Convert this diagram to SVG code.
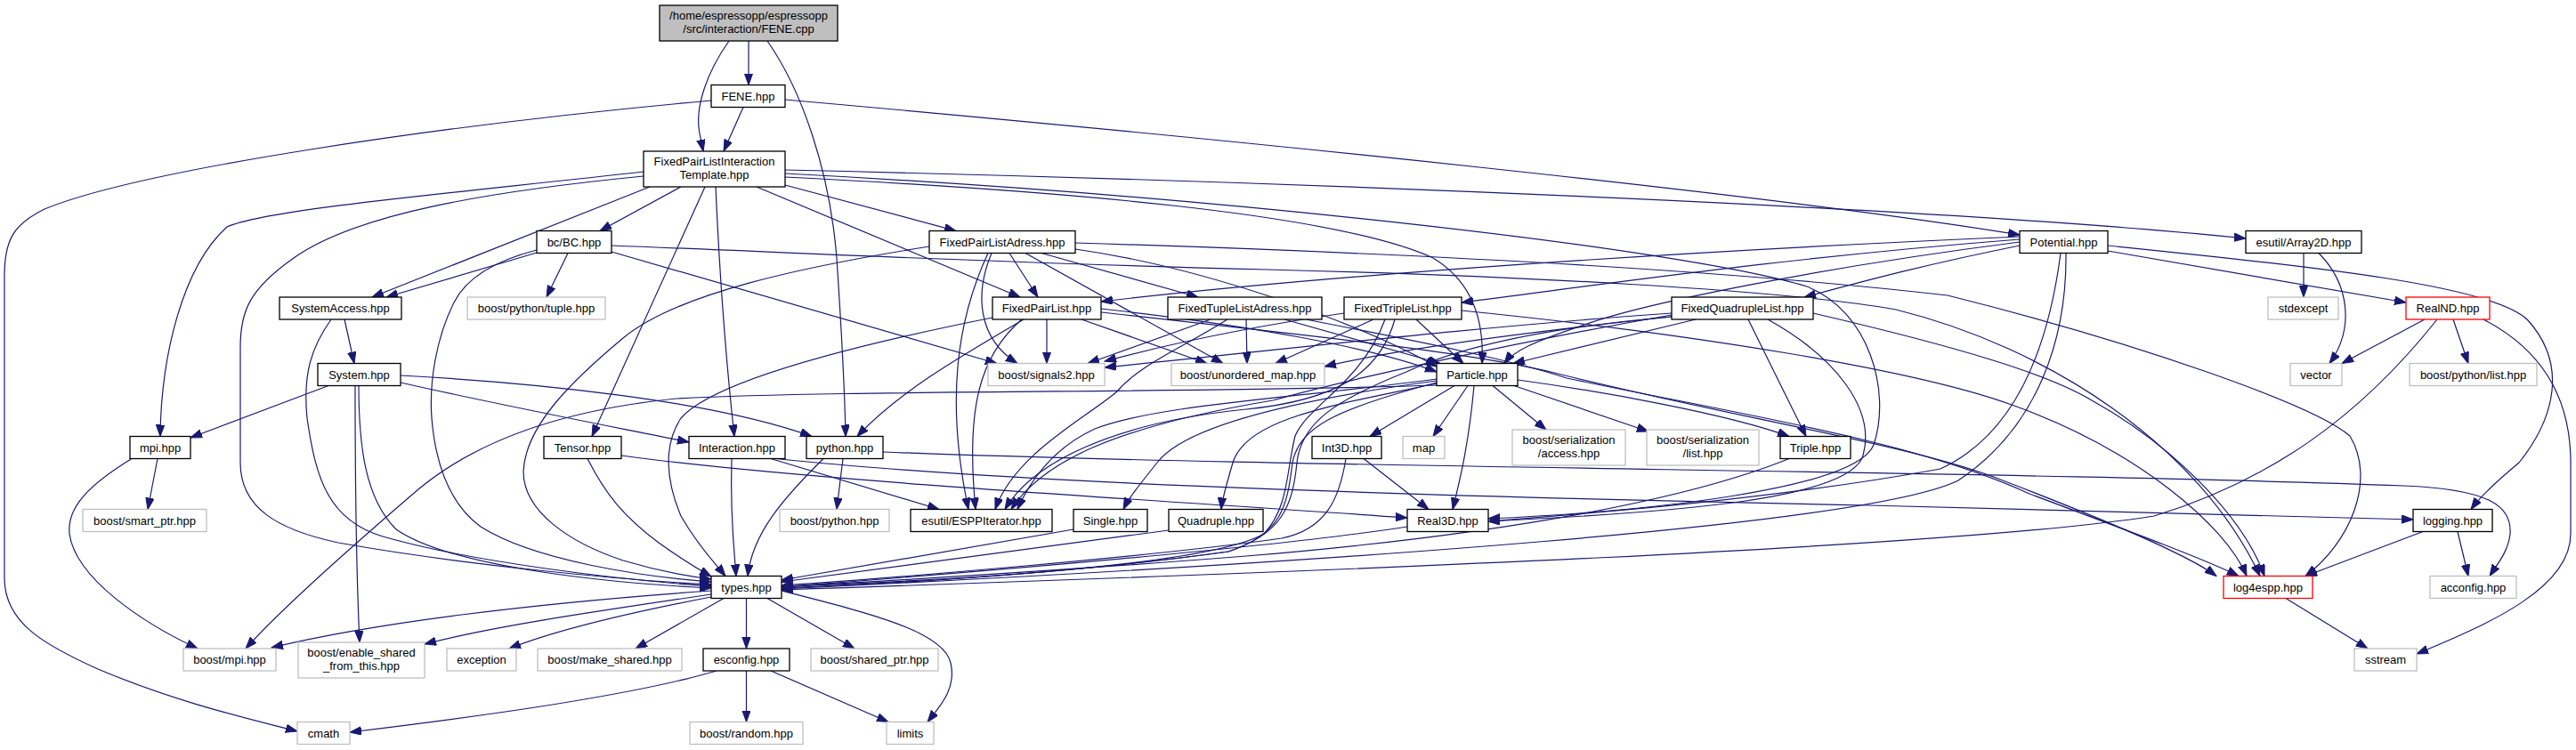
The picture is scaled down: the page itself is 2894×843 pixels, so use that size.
<svg xmlns="http://www.w3.org/2000/svg" width="2894" height="843" viewBox="0 0 2894 843">
<style>
.e{fill:none;stroke:#191970;stroke-width:1.2;marker-end:url(#arr)}
.n rect{fill:#fff;stroke:#000;stroke-width:1.3}
.g rect{fill:#fff;stroke:#bfbfbf;stroke-width:1.3}
.r rect{fill:#fff;stroke:#ff0000;stroke-width:1.3}
.root rect{fill:#bfbfbf;stroke:#000;stroke-width:1.3}
text{font-family:"Liberation Sans",Arial,Helvetica,sans-serif;font-size:13px;text-anchor:middle;fill:#000}
</style>
<defs>
<marker id="arr" markerWidth="14" markerHeight="10" refX="13" refY="4.7" orient="auto" markerUnits="userSpaceOnUse">
<path d="M0,0 L13,4.7 L0,9.4 z" fill="#191970" stroke="#191970" stroke-width="1"/>
</marker>
</defs>
<rect width="2894" height="843" fill="#fff"/>
<g id="edges">
<path class="e" d="M841,46 L841,95.5"/>
<path class="e" d="M819,46 C795,80 780,120 786,150 C788,160 789,165 790,170"/>
<path class="e" d="M862,46 C900,100 932,190 940,290 C946,380 949,440 950,490.5"/>
<path class="e" d="M835,120.5 L813,170"/>
<path class="e" d="M882,112 C1400,158 2000,220 2269,264"/>
<path class="e" d="M799,113 C500,140 160,190 50,235 C15,252 5,270 5,310 L5,650 C5,700 50,725 110,752 C200,790 280,808 334,822"/>
<path class="e" d="M765,210 L674,259.5"/>
<path class="e" d="M730,210 L418,334"/>
<path class="e" d="M723,193 C500,218 300,235 255,255 C205,300 181,400 180,490.5"/>
<path class="e" d="M723,198 C550,215 400,240 330,290 C280,325 270,350 270,390 L270,520 C270,570 310,595 380,610 C520,635 700,652 799,657"/>
<path class="e" d="M792,210 L665,490.5"/>
<path class="e" d="M804,210 C808,300 815,400 825,490.5"/>
<path class="e" d="M882,208 L1074,259.5"/>
<path class="e" d="M850,210 L1146,334"/>
<path class="e" d="M882,199 C1200,215 1500,240 1610,290 C1660,320 1667,370 1665,408.5"/>
<path class="e" d="M882,195 C1400,222 1900,282 2030,322 C2100,350 2125,440 2105,500 C2085,550 1850,575 1672,583"/>
<path class="e" d="M882,191 C1500,205 2200,235 2523,268"/>
<path class="e" d="M603,284 L434,334"/>
<path class="e" d="M638,284.5 L614,334"/>
<path class="e" d="M603,281 C560,292 525,310 510,340 C490,380 482,430 485,470 C490,530 510,570 540,592 C600,630 720,648 799,654"/>
<path class="e" d="M687,283 L1120,408.5"/>
<path class="e" d="M687,276 C900,284 1100,295 1424,303 C1700,310 2000,325 2130,348 C2300,390 2470,500 2539,647.5"/>
<path class="e" d="M387,359 L398,408.5"/>
<path class="e" d="M372,359 C350,390 340,420 345,470 C355,540 370,585 430,603 C530,632 700,652 799,659"/>
<path class="e" d="M369,433.5 L214,492"/>
<path class="e" d="M403,433.5 C403,500 410,560 445,595 C510,640 700,656 799,661"/>
<path class="e" d="M399,433.5 C399,600 402,680 404,722"/>
<path class="e" d="M450,422 C600,430 800,450 912,490.5"/>
<path class="e" d="M450,430 C560,455 680,478 774,497"/>
<path class="e" d="M177,515.5 L166,572.5"/>
<path class="e" d="M148,515.5 C100,545 75,570 78,600 C85,650 160,700 222,729"/>
<path class="e" d="M660,515.5 C680,555 700,580 740,610 C765,628 785,640 799,648"/>
<path class="e" d="M698,512 C900,540 1300,562 1581,582"/>
<path class="e" d="M822,515.5 C820,580 825,620 827,647.5"/>
<path class="e" d="M866,515.5 L1055,572.5"/>
<path class="e" d="M872,515.5 C1100,540 1500,556 2100,568 C2400,575 2600,580 2711,584"/>
<path class="e" d="M947,515.5 L940,572.5"/>
<path class="e" d="M925,515.5 C880,560 845,600 840,647.5"/>
<path class="e" d="M992,508 C1400,525 2300,530 2700,546 C2800,550 2822,570 2820,600 C2818,620 2805,635 2797,647.5"/>
<path class="e" d="M1134,284.5 L1166,334"/>
<path class="e" d="M1170,284.5 L1346,334"/>
<path class="e" d="M1114,284.5 C1095,330 1098,380 1143,408.5"/>
<path class="e" d="M1152,284.5 L1374,408.5"/>
<path class="e" d="M1110,284.5 C1075,360 1062,450 1088,572.5"/>
<path class="e" d="M1044,277 C900,300 760,330 700,380 C640,430 590,480 588,530 C588,575 640,610 700,630 C740,642 775,648 799,651"/>
<path class="e" d="M1208,280 C1350,300 1520,360 1614,412"/>
<path class="e" d="M1208,273 C1600,285 1950,305 2188,332 C2400,385 2600,455 2640,490 C2670,540 2640,610 2590,647.5"/>
<path class="e" d="M1176,359 L1176,408.5"/>
<path class="e" d="M1215,359 L1356,408.5"/>
<path class="e" d="M1150,359 C1080,400 1010,440 963,490.5"/>
<path class="e" d="M1115,357 C950,390 800,430 765,470 C745,500 748,540 765,580 C785,615 805,635 815,647.5"/>
<path class="e" d="M1148,359 C1100,400 1085,460 1096,572.5"/>
<path class="e" d="M1237,347 C1400,365 1540,390 1614,418"/>
<path class="e" d="M1237,351 C1450,375 1650,395 1750,420 C1950,470 2150,500 2250,540 C2380,590 2460,625 2490,647.5"/>
<path class="e" d="M1360,359 L1222,408.5"/>
<path class="e" d="M1400,359 L1401,408.5"/>
<path class="e" d="M1379,359 C1330,390 1280,410 1255,440 C1220,470 1140,510 1118,572.5"/>
<path class="e" d="M1443,359 L1618,408.5"/>
<path class="e" d="M1467,359 C1600,385 1700,405 1760,425 C1950,465 2150,495 2280,555 C2400,600 2480,630 2515,647.5"/>
<path class="e" d="M1510,352 C1420,365 1320,385 1241,406"/>
<path class="e" d="M1543,359 L1433,408.5"/>
<path class="e" d="M1591,359 L1644,408.5"/>
<path class="e" d="M1567,359 C1550,420 1500,450 1400,460 C1250,475 1160,520 1129,572.5"/>
<path class="e" d="M1556,359 C1530,430 1470,455 1455,490 C1445,530 1448,570 1420,600 C1350,640 1000,655 878,659"/>
<path class="e" d="M1642,349 C1900,375 2150,415 2260,455 C2400,505 2500,590 2524,647.5"/>
<path class="e" d="M1878,352 C1650,368 1450,392 1241,413"/>
<path class="e" d="M1878,356 C1700,375 1560,395 1488,412"/>
<path class="e" d="M1905,359 L1700,408.5"/>
<path class="e" d="M1964,359 L2029,490.5"/>
<path class="e" d="M1986,359 C2060,400 2110,460 2092,515 C2070,560 1900,575 1672,586"/>
<path class="e" d="M1878,354 C1700,385 1500,430 1430,450 C1250,480 1170,520 1136,572.5"/>
<path class="e" d="M1878,356 C1740,368 1640,390 1580,418 C1500,450 1462,475 1457,520 C1452,570 1440,600 1380,620 C1200,645 1000,656 878,661"/>
<path class="e" d="M2037,352 C2200,390 2300,420 2350,450 C2440,500 2520,580 2544,647.5"/>
<path class="e" d="M2269,276 C2150,300 2080,320 2027,334"/>
<path class="e" d="M2269,269 C2000,290 1800,320 1642,340"/>
<path class="e" d="M2269,266 C1900,282 1500,308 1237,339"/>
<path class="e" d="M2269,272 C2050,300 1850,340 1780,365 C1720,385 1700,395 1690,408.5"/>
<path class="e" d="M2368,282 L2703,340"/>
<path class="e" d="M2368,276 C2600,300 2800,320 2840,360 C2885,410 2870,470 2830,520 C2800,545 2785,560 2776,572.5"/>
<path class="e" d="M2315,284.5 C2300,400 2260,490 2180,527 C2000,560 1800,576 1672,586"/>
<path class="e" d="M2321,284.5 C2322,380 2290,480 2200,540 C2100,590 1500,632 878,662"/>
<path class="e" d="M2588,284.5 L2588,334"/>
<path class="e" d="M2605,284.5 C2640,320 2645,370 2617,408.5"/>
<path class="e" d="M2724,359 L2631,408.5"/>
<path class="e" d="M2756,359 L2773,408.5"/>
<path class="e" d="M2738,359 C2650,470 2550,540 2420,580 C2200,615 1500,642 878,663"/>
<path class="e" d="M2790,359 C2850,390 2888,440 2888,520 L2888,600 C2888,660 2800,700 2715,735"/>
<path class="e" d="M2722,597.5 L2590,647.5"/>
<path class="e" d="M2761,597.5 L2773,647.5"/>
<path class="e" d="M2568,672.5 L2660,729"/>
<path class="e" d="M1634,433.5 L1539,490.5"/>
<path class="e" d="M1649,433.5 L1610,490.5"/>
<path class="e" d="M1677,433.5 L1737,483"/>
<path class="e" d="M1701,433.5 L1852,485"/>
<path class="e" d="M1705,427 C1800,440 1940,465 2010,490.5"/>
<path class="e" d="M1656,433.5 C1650,500 1640,540 1632,572.5"/>
<path class="e" d="M1614,430 C1500,460 1460,480 1452,520 C1446,570 1440,600 1380,620 C1200,645 1000,656 878,661"/>
<path class="e" d="M1614,426 C1450,448 1300,455 1230,482 C1180,505 1155,545 1143,572.5"/>
<path class="e" d="M1614,428 C1450,450 1330,480 1300,520 C1280,545 1268,560 1262,572.5"/>
<path class="e" d="M1614,431 C1500,455 1400,470 1385,520 C1378,545 1373,560 1372,572.5"/>
<path class="e" d="M1614,433 C1350,442 950,438 760,448 C620,462 530,500 470,550 C400,610 320,680 276,729"/>
<path class="e" d="M1532,515.5 L1605,572.5"/>
<path class="e" d="M1512,515.5 C1505,560 1490,595 1440,605 C1300,625 1000,650 878,658"/>
<path class="e" d="M2010,515.5 C1900,560 1700,600 1400,625 C1150,645 950,655 878,660"/>
<path class="e" d="M1581,592 C1400,620 1000,650 878,660"/>
<path class="e" d="M1206,595 L878,652"/>
<path class="e" d="M1313,596 L878,654"/>
<path class="e" d="M799,664 C600,678 420,700 305,728"/>
<path class="e" d="M799,668 C650,690 550,705 477,724"/>
<path class="e" d="M799,671 C700,690 620,710 572,729"/>
<path class="e" d="M813,672.5 L714,729"/>
<path class="e" d="M838.5,672.5 L838.5,729"/>
<path class="e" d="M862,672.5 L960,729"/>
<path class="e" d="M878,664 C980,690 1060,710 1068,745 C1075,775 1055,795 1042,811.5"/>
<path class="e" d="M805,754 C700,785 500,810 393,823"/>
<path class="e" d="M838.5,754 L838.5,811.5"/>
<path class="e" d="M866,754 L998,811.5"/>
</g>
<g id="n_fene_cpp" class="root"><rect x="741" y="6" width="200" height="40"/><text x="841" y="22">/home/espressopp/espressopp</text><text x="841" y="37">/src/interaction/FENE.cpp</text></g>
<g id="n_fene_hpp" class="n"><rect x="799" y="95.5" width="83" height="25"/><text x="840.5" y="112.5">FENE.hpp</text></g>
<g id="n_fplit" class="n"><rect x="723" y="170" width="159" height="40"/><text x="802.5" y="186">FixedPairListInteraction</text><text x="802.5" y="201">Template.hpp</text></g>
<g id="n_bc" class="n"><rect x="603" y="259.5" width="84" height="25"/><text x="645" y="276.5">bc/BC.hpp</text></g>
<g id="n_fpla" class="n"><rect x="1044" y="259.5" width="164" height="25"/><text x="1126" y="276.5">FixedPairListAdress.hpp</text></g>
<g id="n_potential" class="n"><rect x="2269" y="259.5" width="99" height="25"/><text x="2318.5" y="276.5">Potential.hpp</text></g>
<g id="n_array2d" class="n"><rect x="2523" y="259.5" width="130" height="25"/><text x="2588" y="276.5">esutil/Array2D.hpp</text></g>
<g id="n_systemaccess" class="n"><rect x="314" y="334" width="137" height="25"/><text x="382.5" y="351">SystemAccess.hpp</text></g>
<g id="n_tuple" class="g"><rect x="525" y="334" width="155" height="25"/><text x="602.5" y="351">boost/python/tuple.hpp</text></g>
<g id="n_fpl" class="n"><rect x="1115" y="334" width="122" height="25"/><text x="1176" y="351">FixedPairList.hpp</text></g>
<g id="n_ftla" class="n"><rect x="1312" y="334" width="173" height="25"/><text x="1398.5" y="351">FixedTupleListAdress.hpp</text></g>
<g id="n_ftl" class="n"><rect x="1510" y="334" width="132" height="25"/><text x="1576" y="351">FixedTripleList.hpp</text></g>
<g id="n_fql" class="n"><rect x="1878" y="334" width="159" height="25"/><text x="1957.5" y="351">FixedQuadrupleList.hpp</text></g>
<g id="n_stdexcept" class="g"><rect x="2548" y="334" width="79" height="25"/><text x="2587.5" y="351">stdexcept</text></g>
<g id="n_realnd" class="r"><rect x="2703" y="334" width="94" height="25"/><text x="2750" y="351">RealND.hpp</text></g>
<g id="n_system" class="n"><rect x="357" y="408.5" width="93" height="25"/><text x="403.5" y="425.5">System.hpp</text></g>
<g id="n_signals2" class="g"><rect x="1110" y="408.5" width="131" height="25"/><text x="1175.5" y="425.5">boost/signals2.hpp</text></g>
<g id="n_umap" class="g"><rect x="1316" y="408.5" width="172" height="25"/><text x="1402" y="425.5">boost/unordered_map.hpp</text></g>
<g id="n_particle" class="n"><rect x="1614" y="408.5" width="91" height="25"/><text x="1659.5" y="425.5">Particle.hpp</text></g>
<g id="n_vector" class="g"><rect x="2573" y="408.5" width="58" height="25"/><text x="2602" y="425.5">vector</text></g>
<g id="n_pylist" class="g"><rect x="2707" y="408.5" width="143" height="25"/><text x="2778.5" y="425.5">boost/python/list.hpp</text></g>
<g id="n_mpi" class="n"><rect x="146" y="490.5" width="68" height="25"/><text x="180" y="507.5">mpi.hpp</text></g>
<g id="n_tensor" class="n"><rect x="611" y="490.5" width="87" height="25"/><text x="654.5" y="507.5">Tensor.hpp</text></g>
<g id="n_interaction" class="n"><rect x="774" y="490.5" width="108" height="25"/><text x="828" y="507.5">Interaction.hpp</text></g>
<g id="n_python" class="n"><rect x="906" y="490.5" width="86" height="25"/><text x="949" y="507.5">python.hpp</text></g>
<g id="n_int3d" class="n"><rect x="1474" y="490.5" width="78" height="25"/><text x="1513" y="507.5">Int3D.hpp</text></g>
<g id="n_map" class="g"><rect x="1576" y="490.5" width="47" height="25"/><text x="1599.5" y="507.5">map</text></g>
<g id="n_saccess" class="g"><rect x="1699" y="483" width="127" height="40"/><text x="1762.5" y="499">boost/serialization</text><text x="1762.5" y="514">/access.hpp</text></g>
<g id="n_slist" class="g"><rect x="1850" y="483" width="126" height="40"/><text x="1913" y="499">boost/serialization</text><text x="1913" y="514">/list.hpp</text></g>
<g id="n_triple" class="n"><rect x="2000" y="490.5" width="79" height="25"/><text x="2039.5" y="507.5">Triple.hpp</text></g>
<g id="n_smartptr" class="g"><rect x="93" y="572.5" width="139" height="25"/><text x="162.5" y="589.5">boost/smart_ptr.hpp</text></g>
<g id="n_bpython" class="g"><rect x="876" y="572.5" width="123" height="25"/><text x="937.5" y="589.5">boost/python.hpp</text></g>
<g id="n_esppit" class="n"><rect x="1023" y="572.5" width="159" height="25"/><text x="1102.5" y="589.5">esutil/ESPPIterator.hpp</text></g>
<g id="n_single" class="n"><rect x="1206" y="572.5" width="83" height="25"/><text x="1247.5" y="589.5">Single.hpp</text></g>
<g id="n_quadruple" class="n"><rect x="1313" y="572.5" width="106" height="25"/><text x="1366" y="589.5">Quadruple.hpp</text></g>
<g id="n_real3d" class="n"><rect x="1581" y="572.5" width="91" height="25"/><text x="1626.5" y="589.5">Real3D.hpp</text></g>
<g id="n_logging" class="n"><rect x="2711" y="572.5" width="89" height="25"/><text x="2755.5" y="589.5">logging.hpp</text></g>
<g id="n_types" class="n"><rect x="799" y="647.5" width="79" height="25"/><text x="838.5" y="664.5">types.hpp</text></g>
<g id="n_log4espp" class="r"><rect x="2498" y="647.5" width="100" height="25"/><text x="2548" y="664.5">log4espp.hpp</text></g>
<g id="n_acconfig" class="g"><rect x="2730" y="647.5" width="97" height="25"/><text x="2778.5" y="664.5">acconfig.hpp</text></g>
<g id="n_bmpi" class="g"><rect x="206" y="729" width="104" height="25"/><text x="258" y="746">boost/mpi.hpp</text></g>
<g id="n_enable" class="g"><rect x="335" y="722" width="142" height="40"/><text x="406" y="738">boost/enable_shared</text><text x="406" y="753">_from_this.hpp</text></g>
<g id="n_exception" class="g"><rect x="502" y="729" width="78" height="25"/><text x="541" y="746">exception</text></g>
<g id="n_makeshared" class="g"><rect x="604" y="729" width="162" height="25"/><text x="685" y="746">boost/make_shared.hpp</text></g>
<g id="n_esconfig" class="n"><rect x="790" y="729" width="97" height="25"/><text x="838.5" y="746">esconfig.hpp</text></g>
<g id="n_sharedptr" class="g"><rect x="911" y="729" width="143" height="25"/><text x="982.5" y="746">boost/shared_ptr.hpp</text></g>
<g id="n_sstream" class="g"><rect x="2645" y="729" width="70" height="25"/><text x="2680" y="746">sstream</text></g>
<g id="n_cmath" class="g"><rect x="334" y="811.5" width="59" height="25"/><text x="363.5" y="828.5">cmath</text></g>
<g id="n_random" class="g"><rect x="775" y="811.5" width="127" height="25"/><text x="838.5" y="828.5">boost/random.hpp</text></g>
<g id="n_limits" class="g"><rect x="996" y="811.5" width="53" height="25"/><text x="1022.5" y="828.5">limits</text></g>
</svg>
